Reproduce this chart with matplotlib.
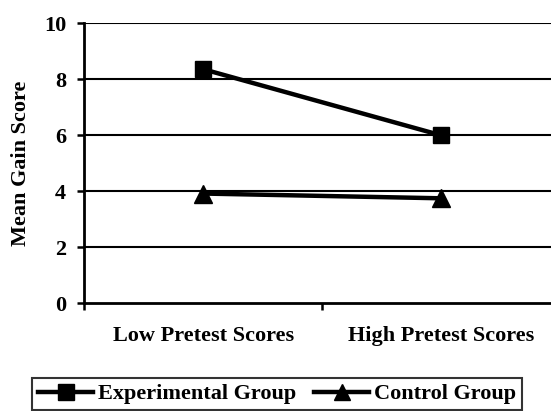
import matplotlib
matplotlib.use("Agg")
import matplotlib.pyplot as plt
from matplotlib.ticker import FixedLocator

categories = ["Low Pretest Scores", "High Pretest Scores"]
experimental = [8.36, 6.0]
control = [3.92, 3.75]
series_names = ["Experimental Group", "Control Group"]
yticks = [0, 2, 4, 6, 8, 10]

plt.rcParams['font.family'] = ['Liberation Serif', 'DejaVu Serif']
plt.rcParams['font.weight'] = 'bold'

FS = 16
W, H = 551, 411
fig = plt.figure(figsize=(W / 100, H / 100), dpi=100)
left, right, top, bottom = 84.3, 560.0, 23.3, 303.3
ax = fig.add_axes([left / W, 1 - bottom / H, (right - left) / W, (bottom - top) / H])

x = [0.5, 1.5]
ax.plot(x, experimental, color='black', lw=3.2, marker='s', markersize=12,
        label=series_names[0], zorder=3)
ax.plot(x, control, color='black', lw=3.2, marker='^', markersize=13,
        label=series_names[1], zorder=3)

ax.set_xlim(0, 2)
ax.set_ylim(0, 10)
ax.set_yticks(yticks)
ax.set_yticklabels([str(v) for v in yticks], fontsize=FS, fontweight='bold')
for v in yticks[1:]:
    ax.axhline(v, color='black', lw=1.5, zorder=1)

ax.xaxis.set_major_locator(FixedLocator(x))
ax.set_xticklabels(categories, fontsize=FS, fontweight='bold')
ax.xaxis.set_minor_locator(FixedLocator([0, 1, 2]))
ax.tick_params(axis='x', which='major', length=0, pad=16)
ax.tick_params(axis='x', which='minor', length=5, width=1.8, direction='out')
ax.tick_params(axis='y', length=5, width=1.8, direction='out', pad=8)

for s in ['top', 'right']:
    ax.spines[s].set_visible(False)
for s in ['left', 'bottom']:
    ax.spines[s].set_linewidth(2.0)

ax.set_ylabel("Mean Gain Score", fontsize=FS, fontweight='bold', labelpad=9)

leg = fig.legend(loc='upper left', bbox_to_anchor=(32.3 / W, 1 - 378.3 / H),
                 ncol=2, frameon=True, fancybox=False,
                 edgecolor='black', handlelength=2.5, handletextpad=0.2,
                 columnspacing=0.8, borderpad=0.25, borderaxespad=0,
                 prop={'weight': 'bold', 'size': FS})
leg.get_frame().set_linewidth(1.5)
for h in leg.legend_handles:
    h.set_markersize(12)

fig.savefig("out.png", dpi=100)
